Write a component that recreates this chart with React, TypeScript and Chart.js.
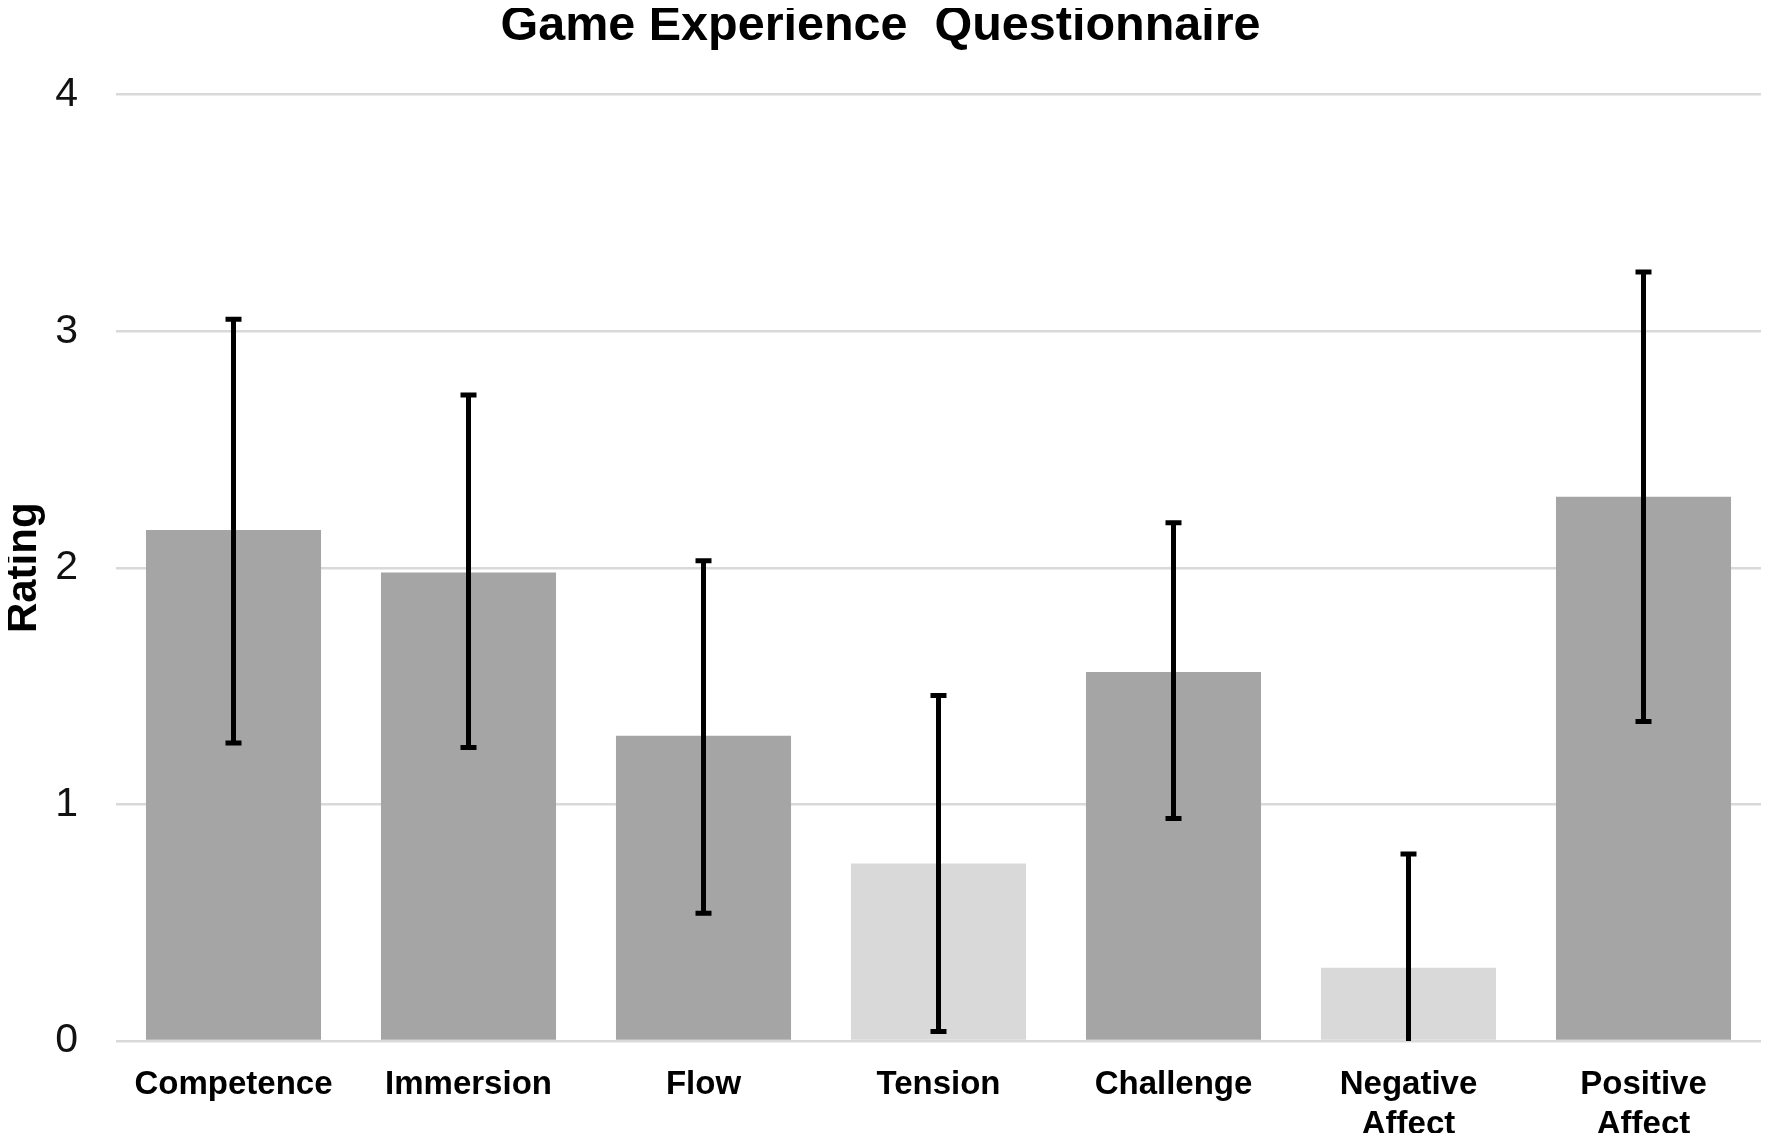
import React, { useEffect, useRef } from 'react';
import { Chart, registerables } from 'chart.js';

Chart.register(...registerables);

const categories: (string | string[])[] = [
  'Competence',
  'Immersion',
  'Flow',
  'Tension',
  'Challenge',
  ['Negative', 'Affect'],
  ['Positive', 'Affect'],
];
const means = [2.16, 1.98, 1.29, 0.75, 1.56, 0.31, 2.3];
const upperErr = [3.05, 2.73, 2.03, 1.46, 2.19, 0.79, 3.25];
const lowerErr = [1.26, 1.24, 0.54, 0.04, 0.94, -0.17, 1.35];
const barColors = ['#a5a5a5', '#a5a5a5', '#a5a5a5', '#d9d9d9', '#a5a5a5', '#d9d9d9', '#a5a5a5'];
const yTicks = [0, 1, 2, 3, 4];

const FONT = "'Liberation Sans', Arial, sans-serif";

// whiskers drawn on top of the bars, using the chart's own scales
const errorBars = {
  id: 'errorBars',
  afterDatasetsDraw(chart: any) {
    const { ctx, chartArea, scales } = chart;
    const meta = chart.getDatasetMeta(0);
    ctx.save();
    ctx.beginPath();
    ctx.rect(chartArea.left, chartArea.top, chartArea.right - chartArea.left, chartArea.bottom - chartArea.top);
    ctx.clip();
    ctx.strokeStyle = '#000';
    ctx.lineWidth = 5;
    meta.data.forEach((bar: any, i: number) => {
      const x = bar.x;
      const yHi = scales.y.getPixelForValue(upperErr[i]);
      const yLo = scales.y.getPixelForValue(lowerErr[i]);
      ctx.beginPath();
      ctx.moveTo(x, yHi);
      ctx.lineTo(x, yLo);
      ctx.moveTo(x - 8, yHi);
      ctx.lineTo(x + 8, yHi);
      ctx.moveTo(x - 8, yLo);
      ctx.lineTo(x + 8, yLo);
      ctx.stroke();
    });
    ctx.restore();
  },
};

const App: React.FC = () => {
  const canvasRef = useRef<HTMLCanvasElement | null>(null);

  useEffect(() => {
    if (!canvasRef.current) return;

    const chart = new Chart(canvasRef.current, {
      type: 'bar',
      data: {
        labels: categories,
        datasets: [
          {
            data: means,
            backgroundColor: barColors,
            borderWidth: 0,
            barPercentage: 0.745,
            categoryPercentage: 1,
          },
        ],
      },
      options: {
        animation: false,
        responsive: true,
        maintainAspectRatio: false,
        devicePixelRatio: 1,
        layout: { padding: { left: 0, right: 10, top: 0, bottom: 0 } },
        plugins: {
          legend: { display: false },
          tooltip: { enabled: false },
          title: {
            display: true,
            text: 'Game Experience  Questionnaire',
            color: '#000',
            font: { family: FONT, size: 48.5, weight: 'bold', lineHeight: 0.94 },
            padding: { top: 4, bottom: 45 },
          },
        },
        scales: {
          x: {
            grid: { display: false },
            border: { display: false },
            ticks: {
              color: '#000',
              font: { family: FONT, size: 33, weight: 'bold', lineHeight: 1.24 },
              padding: 15,
              autoSkip: false,
              maxRotation: 0,
            },
            afterFit: (scale: any) => {
              scale.height = 100;
            },
          },
          y: {
            min: 0,
            max: 4,
            afterBuildTicks: (scale: any) => {
              scale.ticks = yTicks.map((v) => ({ value: v }));
            },
            grid: { color: '#d9d9d9', lineWidth: 2.5, drawTicks: false },
            border: { display: false },
            ticks: {
              color: '#111',
              font: { family: FONT, size: 41 },
              padding: 38,
            },
            title: {
              display: true,
              text: 'Rating',
              color: '#000',
              font: { family: FONT, size: 42, weight: 'bold', lineHeight: 1.14 },
              padding: 0,
            },
            afterFit: (scale: any) => {
              scale.width = 116;
            },
          },
        },
      },
      plugins: [errorBars],
    });

    return () => {
      chart.destroy();
    };
  }, []);

  return (
    <div style={{ position: 'relative', width: '1771px', height: '1141px', margin: '-8px', background: '#fff' }}>
      <canvas ref={canvasRef}></canvas>
    </div>
  );
};

export default App;
